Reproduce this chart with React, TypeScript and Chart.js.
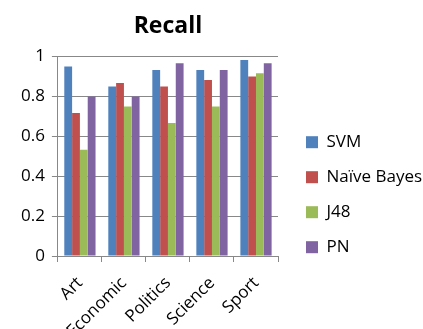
import React, { useEffect, useRef } from "react";
import { Chart, registerables } from "chart.js";

Chart.register(...registerables);

const categories = ["Art", "Economic", "Politics", "Science", "Sport"];
const svm = [0.95, 0.85, 0.933, 0.933, 0.983];
const naiveBayes = [0.717, 0.867, 0.85, 0.883, 0.9];
const j48 = [0.533, 0.75, 0.667, 0.75, 0.917];
const pn = [0.8, 0.8, 0.967, 0.933, 0.967];
const seriesNames = ["SVM", "Naïve Bayes", "J48", "PN"];
const seriesColors = ["#4F81BD", "#C0504D", "#9BBB59", "#8064A2"];
const titleText = "Recall";

const legendWidthPlugin = {
  id: "legendWidthFix",
  beforeLayout(chart: any) {
    const lg = chart.legend;
    if (lg && !lg.__patched) {
      const orig = lg.fit.bind(lg);
      lg.fit = function () {
        orig();
        this.width = 135;
      };
      lg.__patched = true;
    }
  },
};

export default function App() {
  const ref = useRef<HTMLCanvasElement | null>(null);
  useEffect(() => {
    if (!ref.current) return;
    const font = "'Open Sans', sans-serif";
    const series = [svm, naiveBayes, j48, pn];
    const chart = new Chart(ref.current, {
      type: "bar",
      data: {
        labels: categories,
        datasets: series.map((d, i) => ({
          label: seriesNames[i],
          data: d,
          backgroundColor: seriesColors[i],
          borderWidth: 0,
          categoryPercentage: 0.71,
          barPercentage: 1,
        })),
      },
      plugins: [legendWidthPlugin],
      options: {
        animation: false,
        responsive: true,
        maintainAspectRatio: false,
        layout: { padding: { left: 14, right: 0, top: 0, bottom: 0 } },
        plugins: {
          title: {
            display: true,
            text: titleText,
            fullSize: false,
            color: "#000",
            font: { family: font, size: 23, weight: "bold" },
            padding: { top: 13, bottom: 16 },
          },
          legend: {
            position: "right",
            title: { display: true, text: "", padding: { top: 0, bottom: 46 } },
            labels: {
              boxWidth: 12,
              boxHeight: 12,
              padding: 18,
              color: "#000",
              font: { family: font, size: 17 },
            },
          },
          tooltip: { enabled: false },
        },
        scales: {
          x: {
            grid: {
              display: true,
              drawOnChartArea: false,
              drawTicks: true,
              tickLength: 6,
              offset: true,
              color: "#888888",
            },
            border: { display: true, color: "#888888", width: 1 },
            ticks: {
              autoSkip: false,
              maxRotation: 45,
              minRotation: 45,
              color: "#000",
              font: { family: font, size: 17 },
              padding: 11,
            },
            afterFit: (s: any) => {
              s.height = 73;
            },
          },
          y: {
            min: 0,
            max: 1,
            ticks: {
              stepSize: 0.2,
              color: "#000",
              font: { family: font, size: 17 },
              padding: 7,
              callback: (v: any) => String(Math.round(Number(v) * 10) / 10),
            },
            grid: { color: "#888888", tickLength: 6, lineWidth: 1 },
            border: { display: true, color: "#888888", width: 1 },
          },
          yGap: {
            type: "linear",
            position: "right",
            display: true,
            grid: { display: false, drawTicks: false },
            ticks: { display: false },
            border: { display: false },
            afterFit: (s: any) => {
              s.width = 10;
            },
          },
        },
      },
    });
    return () => chart.destroy();
  }, []);
  return (
    <div style={{ position: "absolute", left: 0, top: 0, width: 423, height: 329 }}>
      <canvas ref={ref} />
    </div>
  );
}
